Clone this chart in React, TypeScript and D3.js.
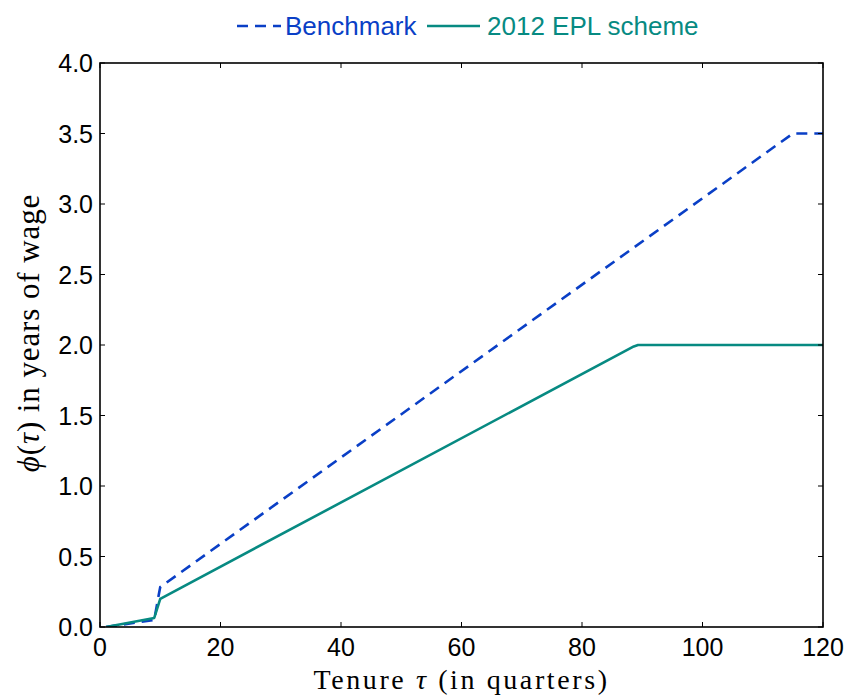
import React, { useRef, useEffect } from 'react';
import * as d3 from 'd3';

// tenure (quarters) and severance in years of wage
const benchTenure = [1, 9, 9.8, 10, 115, 120];
const benchValue = [0, 0.05, 0.24, 0.283, 3.5, 3.5];

const eplTenure = [1, 9, 10, 88.6, 89.3, 90, 120];
const eplValue = [0, 0.064, 0.2, 1.99, 2.0, 2.0, 2.0];

const xTicks = [0, 20, 40, 60, 80, 100, 120];
const yTicks = [0, 0.5, 1, 1.5, 2, 2.5, 3, 3.5, 4];

const BLUE = '#0a3fc6';
const TEAL = '#078a82';

const App = () => {
  const svgRef = useRef<SVGSVGElement>(null);

  useEffect(() => {
    if (!svgRef.current) return;
    const svg = d3.select(svgRef.current);
    svg.selectAll('*').remove();

    const width = 848;
    const height = 695;
    const margin = { top: 63, right: 25, bottom: 68, left: 100 };

    const x = d3.scaleLinear().domain([0, 120]).range([margin.left, width - margin.right]);
    const y = d3.scaleLinear().domain([0, 4]).range([height - margin.bottom, margin.top]);

    const tickFont = '"Liberation Sans", Arial, sans-serif';
    const serif = '"Liberation Serif", "Times New Roman", serif';

    // data lines
    const line = d3.line<[number, number]>()
      .x(d => x(d[0]))
      .y(d => y(d[1]));

    const bench = benchTenure.map((t, i) => [t, benchValue[i]] as [number, number]);
    const epl = eplTenure.map((t, i) => [t, eplValue[i]] as [number, number]);

    svg.append('defs').append('clipPath').attr('id', 'plot-clip')
      .append('rect')
      .attr('x', x(0)).attr('y', y(4) - 2)
      .attr('width', x(120) - x(0)).attr('height', y(0) - y(4) + 2);

    const plot = svg.append('g').attr('clip-path', 'url(#plot-clip)');

    plot.append('path')
      .datum(bench)
      .attr('d', line)
      .attr('fill', 'none')
      .attr('stroke', BLUE)
      .attr('stroke-width', 2.6)
      .attr('stroke-dasharray', '11,7');

    plot.append('path')
      .datum(epl)
      .attr('d', line)
      .attr('fill', 'none')
      .attr('stroke', TEAL)
      .attr('stroke-width', 2.6)
      .attr('stroke-linejoin', 'round');

    // frame
    svg.append('rect')
      .attr('x', x(0)).attr('y', y(4))
      .attr('width', x(120) - x(0)).attr('height', y(0) - y(4))
      .attr('fill', 'none')
      .attr('stroke', '#000')
      .attr('stroke-width', 1.6);

    // inward ticks on all four sides
    const tickLen = 5;
    const ticks = svg.append('g').attr('stroke', '#000').attr('stroke-width', 1);
    xTicks.forEach(t => {
      ticks.append('line').attr('x1', x(t)).attr('x2', x(t)).attr('y1', y(0)).attr('y2', y(0) - tickLen);
      ticks.append('line').attr('x1', x(t)).attr('x2', x(t)).attr('y1', y(4)).attr('y2', y(4) + tickLen);
    });
    yTicks.forEach(t => {
      ticks.append('line').attr('x1', x(0)).attr('x2', x(0) + tickLen).attr('y1', y(t)).attr('y2', y(t));
      ticks.append('line').attr('x1', x(120)).attr('x2', x(120) - tickLen).attr('y1', y(t)).attr('y2', y(t));
    });

    // tick labels
    svg.append('g').selectAll('text')
      .data(xTicks)
      .enter()
      .append('text')
      .attr('x', d => x(d))
      .attr('y', y(0) + 29)
      .attr('text-anchor', 'middle')
      .style('font-family', tickFont)
      .style('font-size', '25px')
      .text(d => String(d));

    svg.append('g').selectAll('text')
      .data(yTicks)
      .enter()
      .append('text')
      .attr('x', x(0) - 7)
      .attr('y', d => y(d) + 9)
      .attr('text-anchor', 'end')
      .style('font-family', tickFont)
      .style('font-size', '25px')
      .text(d => d.toFixed(1));

    // axis labels
    const xl = svg.append('text')
      .attr('x', (x(0) + x(120)) / 2)
      .attr('y', height - 6)
      .attr('text-anchor', 'middle')
      .style('font-family', serif)
      .style('font-size', '28px')
      .style('letter-spacing', '2.6px');
    xl.append('tspan').text('Tenure ');
    xl.append('tspan').style('font-style', 'italic').text('τ');
    xl.append('tspan').text(' (in quarters)');

    const yl = svg.append('text')
      .attr('transform', `translate(39,${(y(0) + y(4)) / 2 - 12}) rotate(-90)`)
      .attr('text-anchor', 'middle')
      .style('font-family', serif)
      .style('font-size', '31px')
      .style('letter-spacing', '0.9px');
    yl.append('tspan').style('font-style', 'italic').text('ϕ');
    yl.append('tspan').text('(');
    yl.append('tspan').style('font-style', 'italic').text('τ');
    yl.append('tspan').text(') in years of wage');

    // legend
    const legend = svg.append('g').style('font-family', tickFont).style('font-size', '26px');
    legend.append('line')
      .attr('x1', 237).attr('x2', 281).attr('y1', 26).attr('y2', 26)
      .attr('stroke', BLUE).attr('stroke-width', 2.6).attr('stroke-dasharray', '11,7');
    legend.append('text').attr('x', 285).attr('y', 35).attr('fill', BLUE).text('Benchmark');
    legend.append('line')
      .attr('x1', 427).attr('x2', 480).attr('y1', 26).attr('y2', 26)
      .attr('stroke', TEAL).attr('stroke-width', 2.6);
    legend.append('text').attr('x', 487).attr('y', 35).attr('fill', TEAL).text('2012 EPL scheme');
  }, []);

  return (
    <svg
      ref={svgRef}
      width={848}
      height={695}
      style={{ position: 'absolute', left: 0, top: 0, background: 'white' }}
    />
  );
};

export default App;
